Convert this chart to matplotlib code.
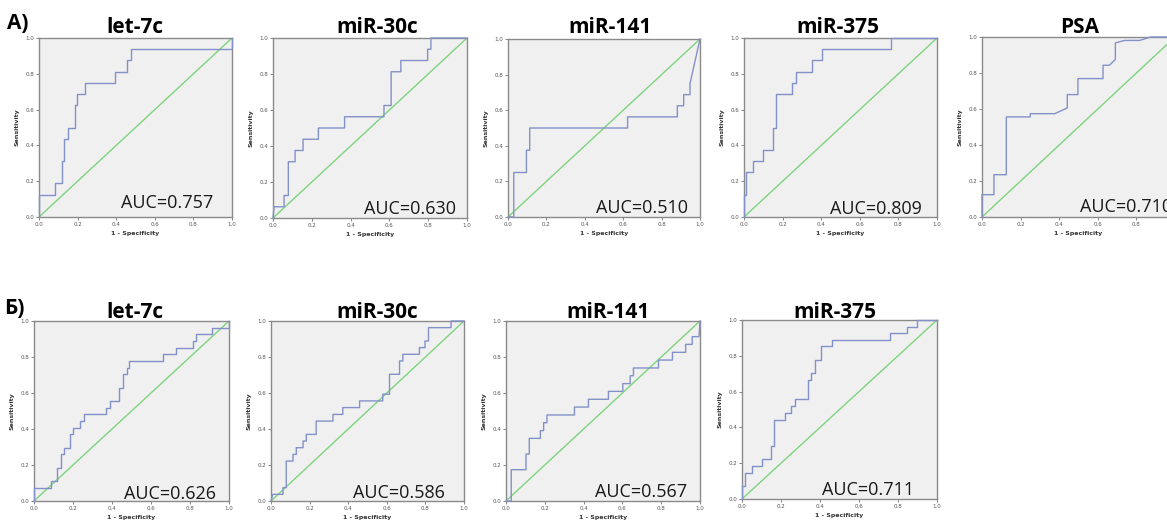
import matplotlib
matplotlib.use("Agg")
import matplotlib.pyplot as plt

W, H = 1167, 520

# ---- Cohort A: ROC curves (1 - specificity, sensitivity) ----
a_let7c_fpr = [0, 0, 0.081, 0.081, 0.117, 0.117, 0.13, 0.13, 0.15, 0.15, 0.185, 0.185, 0.199, 0.199,
               0.238, 0.238, 0.392, 0.392, 0.458, 0.458, 0.475, 0.475, 1.0, 1.0]
a_let7c_tpr = [0, 0.125, 0.125, 0.1875, 0.1875, 0.3125, 0.3125, 0.4375, 0.4375, 0.5, 0.5, 0.625, 0.625,
               0.6875, 0.6875, 0.75, 0.75, 0.8125, 0.8125, 0.875, 0.875, 0.9375, 0.9375, 1.0]

a_mir30c_fpr = [0, 0.005, 0.057, 0.057, 0.079, 0.079, 0.114, 0.114, 0.155, 0.155, 0.234, 0.234, 0.369,
                0.369, 0.572, 0.572, 0.609, 0.609, 0.659, 0.659, 0.797, 0.797, 0.814, 0.814, 1.0]
a_mir30c_tpr = [0, 0.0625, 0.0625, 0.125, 0.125, 0.3125, 0.3125, 0.375, 0.375, 0.4375, 0.4375, 0.5, 0.5,
                0.5625, 0.5625, 0.625, 0.625, 0.8125, 0.8125, 0.875, 0.875, 0.9375, 0.9375, 1.0, 1.0]

a_mir141_fpr = [0, 0.03, 0.03, 0.096, 0.096, 0.113, 0.113, 0.623, 0.623, 0.882, 0.882, 0.915, 0.915,
                0.948, 0.948, 1.0]
a_mir141_tpr = [0, 0, 0.25, 0.25, 0.375, 0.375, 0.5, 0.5, 0.5625, 0.5625, 0.625, 0.625, 0.6875, 0.6875,
                0.75, 1.0]

a_mir375_fpr = [0, 0, 0.012, 0.012, 0.047, 0.047, 0.098, 0.098, 0.15, 0.15, 0.168, 0.168, 0.25, 0.25,
                0.268, 0.268, 0.354, 0.354, 0.406, 0.406, 0.763, 0.763, 1.0]
a_mir375_tpr = [0, 0.125, 0.125, 0.25, 0.25, 0.3125, 0.3125, 0.375, 0.375, 0.5, 0.5, 0.6875, 0.6875,
                0.75, 0.75, 0.8125, 0.8125, 0.875, 0.875, 0.9375, 0.9375, 1.0, 1.0]

a_psa_fpr = [0, 0, 0.062, 0.062, 0.126, 0.126, 0.25, 0.25, 0.377, 0.442, 0.442, 0.497, 0.497, 0.627,
             0.627, 0.66, 0.691, 0.691, 0.739, 0.817, 0.874, 1.0]
a_psa_tpr = [0, 0.124, 0.124, 0.235, 0.235, 0.556, 0.556, 0.574, 0.574, 0.606, 0.68, 0.68, 0.769, 0.769,
             0.843, 0.843, 0.875, 0.967, 0.981, 0.981, 1.0, 1.0]

# ---- Cohort B ----
b_let7c_fpr = [0, 0, 0.089, 0.089, 0.12, 0.12, 0.138, 0.138, 0.152, 0.152, 0.186, 0.186, 0.2, 0.2,
               0.237, 0.237, 0.254, 0.254, 0.37, 0.37, 0.39, 0.39, 0.438, 0.438, 0.458, 0.458, 0.475,
               0.475, 0.489, 0.489, 0.663, 0.663, 0.726, 0.726, 0.813, 0.813, 0.833, 0.833, 0.913,
               0.913, 1.0, 1.0]
b_let7c_tpr = [0, 0.074, 0.074, 0.111, 0.111, 0.185, 0.185, 0.259, 0.259, 0.296, 0.296, 0.37, 0.37,
               0.407, 0.407, 0.444, 0.444, 0.481, 0.481, 0.519, 0.519, 0.556, 0.556, 0.63, 0.63, 0.704,
               0.704, 0.741, 0.741, 0.778, 0.778, 0.815, 0.815, 0.852, 0.852, 0.889, 0.889, 0.926,
               0.926, 0.963, 0.963, 1.0]

b_mir30c_fpr = [0, 0.009, 0.062, 0.062, 0.079, 0.079, 0.114, 0.114, 0.131, 0.131, 0.166, 0.166, 0.183,
                0.183, 0.234, 0.234, 0.321, 0.321, 0.372, 0.372, 0.459, 0.459, 0.579, 0.579, 0.614,
                0.614, 0.666, 0.666, 0.683, 0.683, 0.769, 0.769, 0.798, 0.798, 0.816, 0.816, 0.933,
                0.933, 1.0]
b_mir30c_tpr = [0, 0.037, 0.037, 0.074, 0.074, 0.222, 0.222, 0.259, 0.259, 0.296, 0.296, 0.333, 0.333,
                0.37, 0.37, 0.444, 0.444, 0.481, 0.481, 0.519, 0.519, 0.556, 0.556, 0.593, 0.593,
                0.704, 0.704, 0.778, 0.778, 0.815, 0.815, 0.852, 0.852, 0.889, 0.889, 0.963, 0.963,
                1.0, 1.0]

b_mir141_fpr = [0, 0.027, 0.027, 0.103, 0.103, 0.12, 0.12, 0.177, 0.177, 0.194, 0.194, 0.211, 0.211,
                0.353, 0.353, 0.425, 0.425, 0.528, 0.528, 0.602, 0.602, 0.64, 0.64, 0.657, 0.657,
                0.786, 0.786, 0.858, 0.858, 0.926, 0.926, 0.96, 0.96, 0.995, 1.0]
b_mir141_tpr = [0, 0, 0.174, 0.174, 0.261, 0.261, 0.348, 0.348, 0.391, 0.391, 0.435, 0.435, 0.478,
                0.478, 0.522, 0.522, 0.565, 0.565, 0.609, 0.609, 0.652, 0.652, 0.696, 0.696, 0.739,
                0.739, 0.783, 0.783, 0.826, 0.826, 0.87, 0.87, 0.913, 0.913, 1.0]

b_mir375_fpr = [0, 0, 0.017, 0.017, 0.051, 0.051, 0.102, 0.102, 0.15, 0.15, 0.165, 0.165, 0.221, 0.221,
                0.25, 0.25, 0.273, 0.273, 0.337, 0.337, 0.354, 0.354, 0.375, 0.375, 0.405, 0.405, 0.46,
                0.46, 0.761, 0.761, 0.847, 0.847, 0.898, 0.898, 1.0]
b_mir375_tpr = [0, 0.074, 0.074, 0.148, 0.148, 0.185, 0.185, 0.222, 0.222, 0.296, 0.296, 0.444, 0.444,
                0.481, 0.481, 0.519, 0.519, 0.556, 0.556, 0.667, 0.667, 0.704, 0.704, 0.778, 0.778,
                0.852, 0.852, 0.889, 0.889, 0.926, 0.926, 0.963, 0.963, 1.0, 1.0]

titles = ["let-7c", "miR-30c", "miR-141", "miR-375", "PSA",
          "let-7c", "miR-30c", "miR-141", "miR-375"]
auc_labels = ["AUC=0.757", "AUC=0.630", "AUC=0.510", "AUC=0.809", "AUC=0.710",
              "AUC=0.626", "AUC=0.586", "AUC=0.567", "AUC=0.711"]
curves = [(a_let7c_fpr, a_let7c_tpr), (a_mir30c_fpr, a_mir30c_tpr), (a_mir141_fpr, a_mir141_tpr),
          (a_mir375_fpr, a_mir375_tpr), (a_psa_fpr, a_psa_tpr),
          (b_let7c_fpr, b_let7c_tpr), (b_mir30c_fpr, b_mir30c_tpr), (b_mir141_fpr, b_mir141_tpr),
          (b_mir375_fpr, b_mir375_tpr)]
tick_values = [0.0, 0.2, 0.4, 0.6, 0.8, 1.0]
tick_labels = ["0.0", "0.2", "0.4", "0.6", "0.8", "1.0"]

# panel boxes in pixels: left, right, top, bottom
boxes = [(39, 232, 38, 217), (273, 467, 38, 218), (508, 700, 39, 217), (744, 937, 38, 217),
         (982, 1175, 37, 217),
         (34, 229, 321, 501), (271, 464, 321, 501), (506, 700, 321, 501), (742, 937, 320, 499)]
title_pos = [(135, 33), (377, 33), (610, 33), (838, 33), (1080, 33),
             (135, 318), (377, 318), (608, 318), (835, 318)]
auc_pos = [(0.425, 0.05), (0.47, 0.02), (0.458, 0.022), (0.446, 0.017), (0.508, 0.028),
           (0.46, 0.012), (0.425, 0.017), (0.459, 0.022), (0.41, 0.022)]

curve_color = "#8391c9"
diag_color = "#7dd47d"
font_main = ["Open Sans", "DejaVu Sans"]

fig = plt.figure(figsize=(W / 100, H / 100), dpi=100)
fig.patch.set_facecolor("white")

for i, ((fpr, tpr), box) in enumerate(zip(curves, boxes)):
    l, r, t, b = box
    ax = fig.add_axes([l / W, 1 - b / H, (r - l) / W, (b - t) / H])
    ax.set_facecolor("#f0f0f0")
    ax.plot([0, 1], [0, 1], color=diag_color, lw=1.0, zorder=2)
    ax.plot(fpr, tpr, color=curve_color, lw=1.0, zorder=3, clip_on=False)
    ax.set_xlim(0, 1)
    ax.set_ylim(0, 1)
    ax.set_xticks(tick_values)
    ax.set_yticks(tick_values)
    ax.set_xticklabels(tick_labels)
    ax.set_yticklabels(tick_labels)
    ax.tick_params(length=2, width=0.5, labelsize=4, colors="#555555", pad=1.5)
    for s in ax.spines.values():
        s.set_color("#8a8a8a")
        s.set_linewidth(1.0)
    ax.set_xlabel("1 - Specificity", fontsize=4.5, fontweight="bold", labelpad=3, color="#333333")
    ax.set_ylabel("Sensitivity", fontsize=4.5, fontweight="bold", labelpad=4, color="#333333")
    ax.text(auc_pos[i][0], auc_pos[i][1], auc_labels[i], transform=ax.transAxes,
            ha="left", va="baseline", fontsize=13, family=font_main, color="#1a1a1a",
            clip_on=False, zorder=5)
    tx, ty = title_pos[i]
    fig.text(tx / W, 1 - ty / H, titles[i], ha="center", va="baseline", fontsize=15,
             fontweight="bold", family=font_main, color="black")

fig.text(7 / W, 1 - 29 / H, "A)", ha="left", va="baseline", fontsize=15, fontweight="bold",
         family=font_main)
fig.text(4 / W, 1 - 314 / H, "Б)", ha="left", va="baseline", fontsize=15, fontweight="bold",
         family=font_main)

fig.savefig("out.png", dpi=100, facecolor="white")
